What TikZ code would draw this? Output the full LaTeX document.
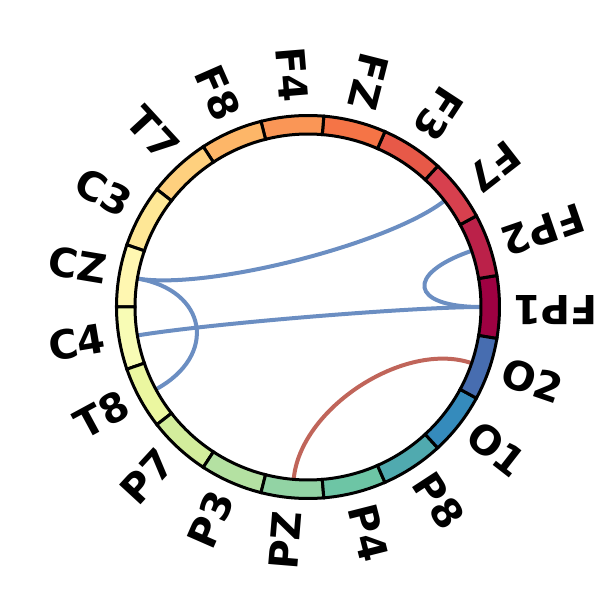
\documentclass[tikz,border=0pt]{standalone}
\usepackage{fontspec}
\setmainfont{DejaVu Sans}
\definecolor{s0}{rgb}{0.619608,0.003922,0.258824}
\definecolor{s1}{rgb}{0.835294,0.243137,0.309804}
\definecolor{s2}{rgb}{0.956863,0.427451,0.262745}
\definecolor{s3}{rgb}{0.992157,0.682353,0.380392}
\definecolor{s4}{rgb}{0.996078,0.878431,0.545098}
\definecolor{s5}{rgb}{1.0,1.0,0.749020}
\definecolor{s6}{rgb}{0.901961,0.960784,0.596078}
\definecolor{s7}{rgb}{0.670588,0.866667,0.643137}
\definecolor{s8}{rgb}{0.400000,0.760784,0.647059}
\definecolor{s9}{rgb}{0.196078,0.533333,0.741176}
\definecolor{s10}{rgb}{0.368627,0.309804,0.635294}
\colorlet{n0}{s0}
\colorlet{n1}{s1!52.6!s0}
\colorlet{n2}{s2!5.3!s1}
\colorlet{n3}{s2!57.9!s1}
\colorlet{n4}{s3!10.5!s2}
\colorlet{n5}{s3!63.2!s2}
\colorlet{n6}{s4!15.8!s3}
\colorlet{n7}{s4!68.4!s3}
\colorlet{n8}{s5!21.1!s4}
\colorlet{n9}{s5!73.7!s4}
\colorlet{n10}{s6!26.3!s5}
\colorlet{n11}{s6!78.9!s5}
\colorlet{n12}{s7!31.6!s6}
\colorlet{n13}{s7!84.2!s6}
\colorlet{n14}{s8!36.8!s7}
\colorlet{n15}{s8!89.5!s7}
\colorlet{n16}{s9!42.1!s8}
\colorlet{n17}{s9!94.7!s8}
\colorlet{n18}{s10!47.4!s9}
\definecolor{cblue}{HTML}{6B8EC2}
\definecolor{cred}{HTML}{C0655A}
\begin{document}
\begin{tikzpicture}[x=1pt,y=1pt,
  seg/.style={line width=3pt, draw=black},
  chord/.style={line width=4pt},
  lab/.style={inner sep=0pt, font=\fontsize{40}{48}\selectfont\bfseries}]
\useasboundingbox (0,0) rectangle (616,616);
\begin{scope}[shift={(308,309)}]
\foreach \i/\n in {0/FP1,1/FP2,2/F7,3/F3,4/FZ,5/F4,6/F8,7/T7,8/C3,9/CZ,10/C4,11/T8,12/P7,13/P3,14/PZ,15/P4,16/P8,17/O1,18/O2}{
  \pgfmathsetmacro\ang{\i*360/19}
  \coordinate (p\n) at (\ang:173);
  \coordinate (q\n) at (\ang:102);
}
\draw[chord, cblue] (pF7) .. controls (qF7) and (qCZ) .. (pCZ);
\draw[chord, cblue] (pFP2) .. controls (qFP2) and (qFP1) .. (pFP1);
\draw[chord, cblue] (pCZ) .. controls (qCZ) and (qT8) .. (pT8);
\draw[chord, cblue] (pC4) .. controls (qC4) and (qFP1) .. (pFP1);
\draw[chord, cred] (pO2) .. controls (qO2) and (qPZ) .. (pPZ);
\foreach \i/\n in {0/FP1,1/FP2,2/F7,3/F3,4/FZ,5/F4,6/F8,7/T7,8/C3,9/CZ,10/C4,11/T8,12/P7,13/P3,14/PZ,15/P4,16/P8,17/O1,18/O2}{
  \pgfmathsetmacro\ang{\i*360/19}
  \pgfmathsetmacro\aa{\ang-180/19}
  \pgfmathsetmacro\ab{\ang+180/19}
  \draw[seg, fill=n\i] (\aa:173) arc[start angle=\aa, end angle=\ab, radius=173] -- (\ab:191.5) arc[start angle=\ab, end angle=\aa, radius=191.5] -- cycle;
  \pgfmathtruncatemacro\flip{\ang<270 ? 1 : 0}
  \ifnum\flip=1
    \node[lab, rotate=\ang+180, anchor=east] (l\n) at (\ang:205) {\vphantom{lp}\n};
  \else
    \node[lab, rotate=\ang, anchor=west] (l\n) at (\ang:205) {\vphantom{lp}\n};
  \fi
}
\end{scope}
\end{tikzpicture}
\end{document}
